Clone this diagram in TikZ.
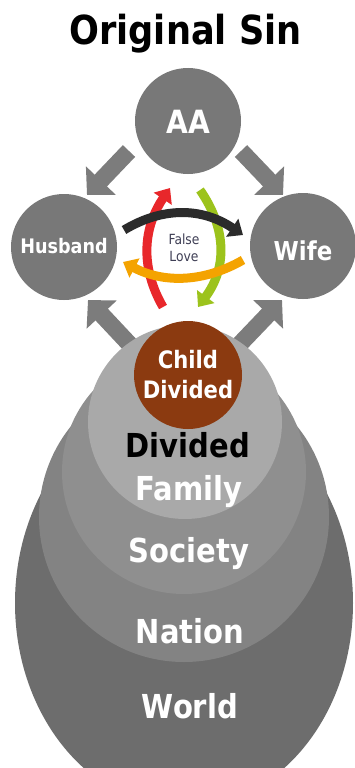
\documentclass[tikz,border=0pt]{standalone}
\usepackage{fontspec}
\setmainfont{DejaVu Sans}[FakeStretch=0.88]
\usetikzlibrary{arrows.meta,shapes.geometric}
\definecolor{nodegray}{HTML}{787878}
\definecolor{arrowgray}{HTML}{7C7C7C}
\definecolor{worldgray}{HTML}{6D6D6D}
\definecolor{nationgray}{HTML}{838383}
\definecolor{societygray}{HTML}{8F8F8F}
\definecolor{familygray}{HTML}{A9A9A9}
\definecolor{childbrown}{HTML}{8B3A10}
\definecolor{redarc}{HTML}{E8272B}
\definecolor{greenarc}{HTML}{9CC31C}
\definecolor{blackarc}{HTML}{2B2B2B}
\definecolor{orangearc}{HTML}{F4A300}
\definecolor{falsecol}{HTML}{3F3F55}
\begin{document}
\begin{tikzpicture}[x=1pt,y=-1pt,
  bubble/.style={circle,fill=nodegray,inner sep=0pt,minimum size=106pt,text=white,text depth=0pt},
  layer/.style={circle,inner sep=0pt},
  word/.style={anchor=base,inner sep=0pt,text=white,font=\bfseries\fontsize{33}{33}\selectfont},
  blockarrow/.style={draw=arrowgray,line width=17pt,-{Triangle[width=40pt,length=20pt]}},
  cyc/.style={line width=9pt,-{Triangle[width=21pt,length=13pt]}}]
\fill[white] (0,0) rectangle (354,768);
\useasboundingbox (0,0) rectangle (354,768);

% title
\node[anchor=base,inner sep=0pt,font=\bfseries\fontsize{40}{40}\selectfont,text=black] (title) at (185.5,45) {Original Sin};

% block arrow end points
\coordinate (ulT) at (129,151); \coordinate (ulH) at (87,195);
\coordinate (urT) at (241,151); \coordinate (urH) at (283,195);
\coordinate (llT) at (133,348); \coordinate (llH) at (88,300);
\coordinate (lrT) at (238,346); \coordinate (lrH) at (282,300);
\draw[blockarrow] (ulT) -- (ulH);
\draw[blockarrow] (urT) -- (urH);
\draw[blockarrow] (llT) -- (llH);
\draw[blockarrow] (lrT) -- (lrH);

% stacked layers
\node[ellipse,inner sep=0pt,fill=worldgray,minimum width=338pt,minimum height=410pt] (world) at (184,603) {};
\node[layer,fill=nationgray,minimum size=290pt] (nation) at (184,517) {};
\node[layer,fill=societygray,minimum size=244pt] (society) at (184,472) {};
\node[layer,fill=familygray,minimum size=194pt] (family) at (185,422) {};
\node[layer,fill=childbrown,minimum size=108pt,text=white,align=center,
  font=\bfseries\fontsize{24}{30}\selectfont] (child) at (188,375) {Child\\Divided};

\node[word,text=black] (dividedtxt) at (188,457) {Divided};
\node[word] (familytxt) at (189,500) {Family};
\node[word] (societytxt) at (189,562) {Society};
\node[word] (nationtxt) at (190,643) {Nation};
\node[word] (worldtxt) at (190,718) {World};

% top circles
\node[bubble,font=\bfseries\fontsize{32}{32}\selectfont,text height=24pt] (aa) at (188,121) {AA};
\node[bubble,font=\bfseries\fontsize{20}{20}\selectfont,text height=12pt] (husband) at (64,247) {Husband};
\node[bubble,font=\bfseries\fontsize{26}{26}\selectfont,text height=28pt] (wife) at (303,246) {Wife};

% cycle arrows
\draw[cyc,draw=redarc] (163,307) .. controls (140,267) and (143,228) .. (170,188);
\draw[cyc,draw=greenarc] (200,190) .. controls (227,229) and (227,268) .. (198,307);
\draw[cyc,draw=blackarc] (124,230) .. controls (164,206) and (203,208) .. (243,235);
\draw[cyc,draw=orangearc] (243,260) .. controls (203,283) and (163,283) .. (123,262);

\node[align=center,inner sep=0pt,text=falsecol,font=\fontsize{14}{17}\selectfont] (falselove) at (184,248) {False\\Love};
\end{tikzpicture}
\end{document}
